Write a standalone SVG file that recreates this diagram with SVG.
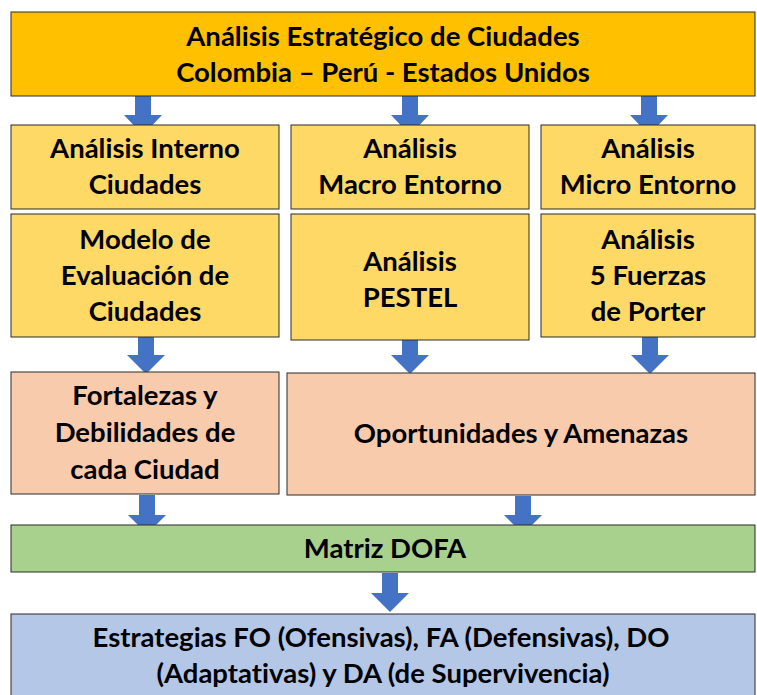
<svg xmlns="http://www.w3.org/2000/svg" width="757" height="695" viewBox="0 0 757 695">
<defs>
<style>
.box{stroke:#2b2b2b;stroke-width:1}
.t{font-family:Lato,"Open Sans","Liberation Sans",sans-serif;font-weight:bold;font-size:27.5px;fill:#000;text-anchor:middle;font-variant-ligatures:none;font-feature-settings:"liga" 0,"dlig" 0}
.arr{fill:#4472C4}
</style>
</defs>
<rect width="757" height="695" fill="#fff"/>
<g id="connectors">
<path class="arr" d="M135,96 H151 V115 H162 L143,135 L124,115 H135 Z"/>
<path class="arr" d="M402,96 H418 V115 H429 L410,135 L391,115 H402 Z"/>
<path class="arr" d="M641,96 H657 V115 H668 L649,135 L630,115 H641 Z"/>
<path class="arr" d="M138,337 H154 V355 H165 L146,374 L127,355 H138 Z"/>
<path class="arr" d="M402,340 H418 V355 H429 L410,374 L391,355 H402 Z"/>
<path class="arr" d="M642,337 H658 V355 H669 L650,374 L631,355 H642 Z"/>
<path class="arr" d="M139,495 H155 V515 H166 L147,534 L128,515 H139 Z"/>
<path class="arr" d="M515,496 H531 V515 H542 L523,534 L504,515 H515 Z"/>
<path class="arr" d="M382,573 H398 V593 H409 L390,612 L371,593 H382 Z"/>
</g>
<g id="top">
<rect class="box" x="11" y="12" width="744" height="84" fill="#FFC000"/>
<text class="t" x="383" y="46">Análisis Estratégico de Ciudades</text>
<text class="t" x="383" y="82">Colombia – Perú - Estados Unidos</text>
</g>
<g id="interno">
<rect class="box" x="11" y="125" width="268" height="84" fill="#FFD966"/>
<text class="t" x="145" y="158">Análisis Interno</text>
<text class="t" x="145" y="194">Ciudades</text>
</g>
<g id="macro">
<rect class="box" x="291" y="125" width="238" height="84" fill="#FFD966"/>
<text class="t" x="410" y="158">Análisis</text>
<text class="t" x="410" y="194">Macro Entorno</text>
</g>
<g id="micro">
<rect class="box" x="541" y="125" width="214" height="84" fill="#FFD966"/>
<text class="t" x="648" y="158">Análisis</text>
<text class="t" x="648" y="194">Micro Entorno</text>
</g>
<g id="modelo">
<rect class="box" x="11" y="214" width="268" height="123" fill="#FFD966"/>
<text class="t" x="145" y="249">Modelo de</text>
<text class="t" x="145" y="285">Evaluación de</text>
<text class="t" x="145" y="321">Ciudades</text>
</g>
<g id="pestel">
<rect class="box" x="291" y="214" width="238" height="126" fill="#FFD966"/>
<text class="t" x="410" y="271">Análisis</text>
<text class="t" x="410" y="307">PESTEL</text>
</g>
<g id="porter">
<rect class="box" x="541" y="214" width="214" height="123" fill="#FFD966"/>
<text class="t" x="648" y="249">Análisis</text>
<text class="t" x="648" y="285">5 Fuerzas</text>
<text class="t" x="648" y="321">de Porter</text>
</g>
<g id="fortalezas">
<rect class="box" x="11" y="372" width="268" height="122" fill="#F8CBAD"/>
<text class="t" x="145" y="405">Fortalezas y</text>
<text class="t" x="145" y="442">Debilidades de</text>
<text class="t" x="145" y="479">cada Ciudad</text>
</g>
<g id="oportunidades">
<rect class="box" x="287" y="373" width="468" height="122" fill="#F8CBAD"/>
<text class="t" x="521" y="443">Oportunidades y Amenazas</text>
</g>
<g id="dofa">
<rect class="box" x="11" y="525" width="744" height="47" fill="#A9D18E"/>
<text class="t" x="385" y="558">Matriz DOFA</text>
</g>
<g id="estrategias">
<rect class="box" x="11" y="614" width="744" height="90" fill="#B4C7E7"/>
<text class="t" x="381" y="647">Estrategias FO (Ofensivas), FA (Defensivas), DO</text>
<text class="t" x="383" y="683">(Adaptativas) y DA (de Supervivencia)</text>
</g>
</svg>
